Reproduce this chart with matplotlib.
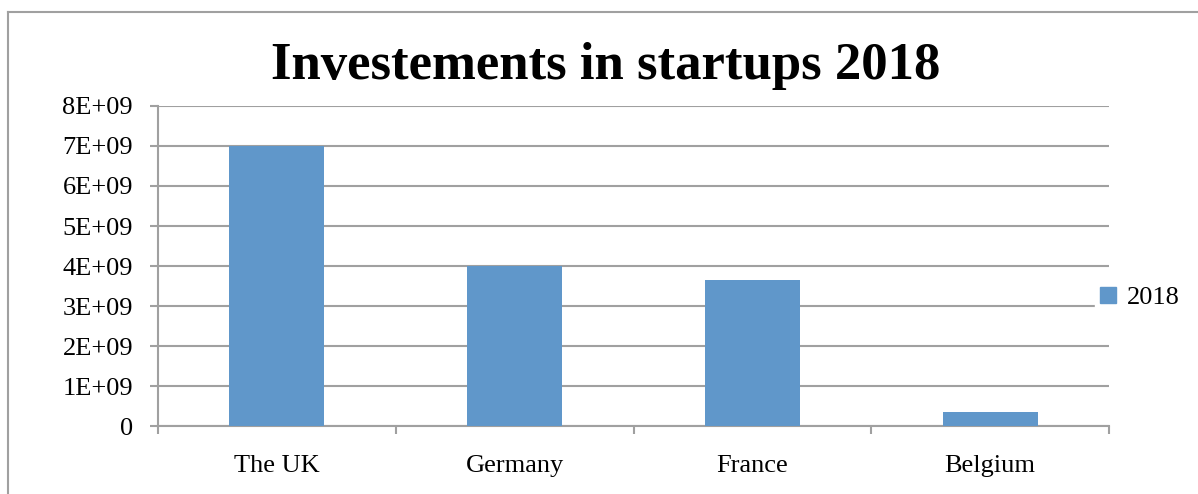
import matplotlib.pyplot as plt
from matplotlib.lines import Line2D
from matplotlib.patches import Patch
from matplotlib.ticker import FuncFormatter, FixedLocator

countries = ["The UK", "Germany", "France", "Belgium"]
invest_2018 = [7.0e9, 4.0e9, 3.65e9, 0.35e9]
series_name = "2018"

bar_color = "#6097CA"
axis_gray = "#A0A0A0"
font = "Liberation Serif"

fig = plt.figure(figsize=(11.98, 4.94), dpi=100)

# chart frame (only left and top edges are visible in the crop)
fig.add_artist(Line2D([8 / 1198, 8 / 1198], [0, 1 - 12 / 494], color=axis_gray, lw=1.5))
fig.add_artist(Line2D([8 / 1198, 1], [1 - 12 / 494, 1 - 12 / 494], color=axis_gray, lw=1.5))

ax = fig.add_axes([158 / 1198, 1 - 426 / 494, (1109 - 158) / 1198, 320 / 494])

x = range(len(countries))
ax.bar(x, invest_2018, width=0.4, color=bar_color, zorder=3)

ax.set_xlim(-0.5, len(countries) - 0.5)
ax.set_ylim(0, 8e9)
ax.set_yticks([i * 1e9 for i in range(9)])
ax.yaxis.set_major_formatter(FuncFormatter(lambda v, p: "0" if v == 0 else "%dE+09" % round(v / 1e9)))
ax.grid(axis="y", color=axis_gray, lw=1.5, zorder=0)

# ticks at category boundaries, labels at centres
ax.xaxis.set_major_locator(FixedLocator([i - 0.5 for i in range(len(countries) + 1)]))
ax.xaxis.set_minor_locator(FixedLocator(list(x)))
ax.set_xticklabels([""] * (len(countries) + 1))
ax.set_xticklabels(countries, minor=True)
ax.tick_params(axis="x", which="major", length=6, width=1.5, color=axis_gray)
ax.tick_params(axis="x", which="minor", length=0, pad=21)
ax.tick_params(axis="y", length=6, width=1.5, color=axis_gray, pad=12)
for lab in ax.get_xticklabels(minor=True) + ax.get_yticklabels():
    lab.set_fontfamily(font)
    lab.set_fontsize(19)

for side in ["top", "right"]:
    ax.spines[side].set_visible(False)
for side in ["left", "bottom"]:
    ax.spines[side].set_color(axis_gray)
    ax.spines[side].set_linewidth(1.5)

fig.text(606 / 1198, 1 - 66 / 494, "Investements in startups 2018", ha="center", va="center",
         fontsize=38, fontweight="bold", family=font)

leg = fig.legend(handles=[Patch(color=bar_color, label=series_name)], loc="center left",
                 bbox_to_anchor=(1082 / 1198, 1 - 298 / 494), frameon=True, framealpha=1,
                 edgecolor="white", handlelength=0.6, handleheight=0.6, handletextpad=0.4,
                 borderpad=0.2, prop={"family": font, "size": 19})

fig.savefig("out.png", dpi=100)
